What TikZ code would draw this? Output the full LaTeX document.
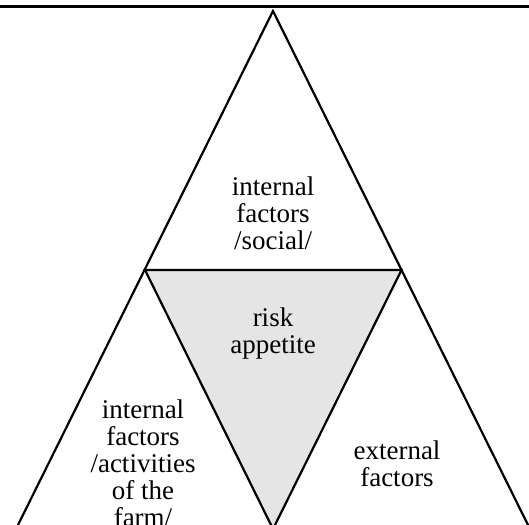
\documentclass[tikz,border=0pt]{standalone}
\usepackage{fontspec}
\setmainfont{Liberation Serif}
\begin{document}
\begin{tikzpicture}[x=1pt,y=-1pt,
  tri/.style={draw=black,line width=2.2pt,line join=miter},
  lbl/.style={align=center,font=\fontsize{27}{27}\selectfont,inner sep=0pt}]
\useasboundingbox (0,0) rectangle (529,524);
\draw[line width=3pt] (0,7) -- (529,7);
\begin{scope}
\clip (0,10) rectangle (529,524);
\coordinate (A) at (273,11);
\coordinate (L) at (145,270);
\coordinate (R) at (401.5,270);
\coordinate (B) at (273,529);
\coordinate (BL) at (16,529);
\coordinate (BR) at (530,529);
\fill[gray!20] (L) -- (R) -- (B) -- cycle;
\draw[tri] (BL) -- (A) -- (BR);
\draw[tri] (L) -- (R) -- (B) -- cycle;
\end{scope}
\node[lbl] (social) at (273,213) {internal\\factors\\/social/};
\node[lbl] (risk) at (273,334) {risk\\appetite};
\node[lbl] (farm) at (143,463) {internal\\factors\\/activities\\of the\\farm/};
\node[lbl] (ext) at (397,464) {external\\factors};
\end{tikzpicture}
\end{document}
